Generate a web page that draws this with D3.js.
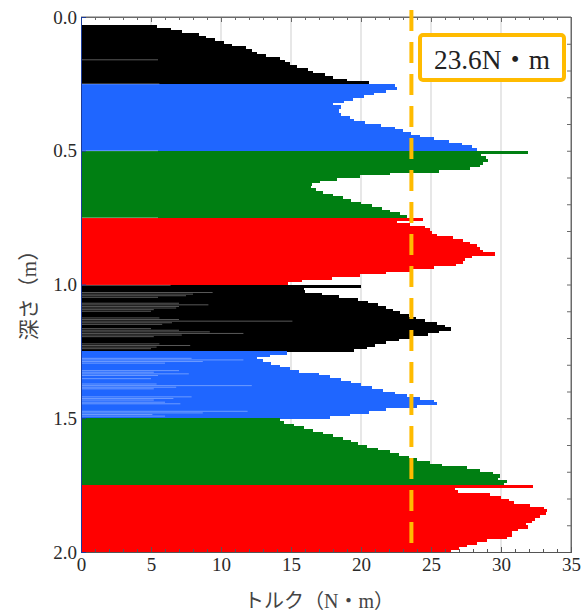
<!DOCTYPE html>
<html>
<head>
<meta charset="utf-8">
<script src="https://cdn.jsdelivr.net/npm/d3@7"></script>
<style>
  html, body { margin: 0; padding: 0; background: #fff; }
  svg { display: block; }
</style>
</head>
<body>
<svg id="chart" width="583" height="614"></svg>
<script>
// Torque profile along depth, one reading every 0.01 m, in 0.25 m layers
const depthStep = 0.01;
const layerTops = [0.00, 0.25, 0.50, 0.75, 1.00, 1.25, 1.50, 1.75];

const torqueLayer1 = [null, null, null, 5.4, 6.4, 7.2, 8.4, 8.9, 9.6, 10.2, 10.8, 11.8, 12.2, 12.6, 13.2, 14.2, 14.6, 14.9, 15.4, 16.2, 16.6, 17.4, 18.0, 19.0, 20.6];
const torqueLayer2 = [22.4, 22.6, 21.8, 20.9, 20.2, 19.4, 18.8, 18.0, 18.6, 18.4, 18.4, 18.6, 19.2, 19.5, 20.3, 21.4, 22.4, 23.0, 23.6, 24.2, 25.2, 26.3, 27.2, 27.9, 28.3];
const torqueLayer3 = [31.9, 28.6, 28.9, 29.1, 28.7, 28.5, 27.8, 25.6, 22.1, 19.9, 18.3, 17.1, 16.5, 16.4, 16.8, 17.3, 18.0, 18.7, 19.3, 20.0, 20.8, 21.5, 22.1, 22.8, 23.3];
const torqueLayer4 = [24.4, 22.6, 23.5, 24.6, 24.9, 25.1, 25.4, 26.6, 27.3, 27.8, 28.3, 28.5, 28.7, 29.6, 27.9, 27.4, 27.3, 26.8, 25.2, 23.5, 21.8, 19.9, 17.9, 15.8, 14.8];
const torqueLayer5 = [20.0, 15.9, 16.0, 17.2, 18.4, 19.8, 20.5, 21.2, 21.8, 22.3, 22.8, 23.4, 23.9, 24.6, 25.4, 26.0, 26.4, 25.6, 24.8, 23.6, 22.7, 21.8, 21.0, 20.4, 19.5];
const torqueLayer6 = [14.7, 13.5, 12.6, 13.0, 13.6, 14.2, 14.9, 15.6, 17.0, 17.8, 18.6, 19.3, 20.0, 20.8, 21.6, 22.4, 23.3, 24.2, 25.2, 25.4, 24.0, 21.8, 20.6, 19.2, 17.8];
const torqueLayer7 = [14.2, 14.5, 15.2, 15.9, 16.6, 17.3, 18.0, 18.7, 19.3, 19.8, 20.4, 21.2, 22.1, 22.7, 23.4, 24.0, 24.9, 25.8, 27.6, 28.5, 29.4, 29.9, 29.8, 30.4, 30.2];
const torqueLayer8 = [32.3, 26.7, 26.9, 29.2, 30.0, 30.6, 30.9, 32.1, 33.1, 33.3, 33.2, 32.8, 32.4, 32.2, 31.8, 31.9, 31.2, 30.8, 30.8, 30.4, 29.0, 28.3, 27.6, 27.0, 26.4];

// Thin light seams between readings (depth, torque reached)
const seamDepths  = [0.16, 0.25, 0.50, 0.75, 1.003,
  1.030, 1.036, 1.042, 1.048, 1.070, 1.076, 1.082, 1.088, 1.094, 1.100,
  1.125, 1.131, 1.137, 1.143, 1.149, 1.165, 1.171, 1.177, 1.183, 1.189, 1.195,
  1.222, 1.228, 1.234, 1.240,
  1.276, 1.282, 1.288, 1.294, 1.322, 1.328, 1.334, 1.340, 1.352,
  1.372, 1.378, 1.384, 1.390, 1.420, 1.426, 1.432, 1.440, 1.446,
  1.474, 1.480, 1.486, 1.492];
const seamTorques = [5.5, 5.6, 5.5, 5.5, 6.4,
  9.4, 8.0, 7.5, 5.5, 7.0, 9.1, 7.0, 6.8, 5.2, 5.0,
  5.6, 7.0, 15.1, 6.5, 5.8, 5.0, 7.0, 9.2, 11.6, 7.2, 5.2,
  5.6, 7.8, 5.4, 5.0,
  7.9, 11.6, 8.7, 6.0, 7.0, 5.2, 7.7, 5.5, 5.0,
  5.4, 12.2, 6.8, 5.2, 7.9, 6.6, 5.2, 6.0, 7.1,
  11.9, 8.7, 5.1, 6.0];

const limitTorque = 23.6;
const limitLabel = "23.6N・m";
const xTicks = [0, 5, 10, 15, 20, 25, 30, 35];
const yTicks = [0.0, 0.5, 1.0, 1.5, 2.0];
const xTitle = "トルク（N・m）";
const yTitle = "深さ（m）";

const layerColors = ["#000000", "#1f66ff", "#007f12", "#ff0000",
                     "#000000", "#1f66ff", "#007f12", "#ff0000"];

const layers = [torqueLayer1, torqueLayer2, torqueLayer3, torqueLayer4,
                torqueLayer5, torqueLayer6, torqueLayer7, torqueLayer8];

const readings = [];
layers.forEach((vals, li) => {
  vals.forEach((v, i) => {
    if (v == null) return;
    readings.push({ depth: layerTops[li] + i * depthStep, torque: v, layer: li });
  });
});

const svg = d3.select("#chart");
const x = d3.scaleLinear().domain([0, 35]).range([81, 571]);
const y = d3.scaleLinear().domain([0, 2]).range([17, 552]);
const serif = "'Liberation Serif', 'Times New Roman', serif";
const cjk = "'Liberation Serif', 'Noto Sans CJK JP', serif";

// vertical grid
svg.append("g").selectAll("line")
  .data(xTicks.filter(t => t > 0 && t < 35))
  .join("line")
  .attr("x1", d => x(d)).attr("x2", d => x(d))
  .attr("y1", y(0)).attr("y2", y(2))
  .attr("stroke", "#cfcfcf").attr("stroke-width", 1);

// torque bars
svg.append("g").attr("shape-rendering", "crispEdges").selectAll("rect")
  .data(readings)
  .join("rect")
  .attr("x", x(0))
  .attr("y", d => y(d.depth))
  .attr("width", d => x(d.torque) - x(0))
  .attr("height", d => y(d.depth + depthStep) - y(d.depth) + 0.6)
  .attr("fill", d => layerColors[d.layer]);

// light seams
svg.append("g").selectAll("line")
  .data(seamDepths.map((d, i) => ({ depth: d, torque: seamTorques[i] })))
  .join("line")
  .attr("x1", x(0)).attr("x2", d => x(d.torque))
  .attr("y1", d => y(d.depth)).attr("y2", d => y(d.depth))
  .attr("stroke", "#ffffff").attr("stroke-opacity", 0.35).attr("stroke-width", 1);

// frame
const frameColor = "#6a6a6a";
svg.append("line").attr("x1", x(0)).attr("x2", x(35)).attr("y1", y(0)).attr("y2", y(0))
  .attr("stroke", frameColor);
svg.append("line").attr("x1", x(35)).attr("x2", x(35)).attr("y1", y(0)).attr("y2", y(2))
  .attr("stroke", frameColor);

function styleAxis(g, color) {
  g.attr("font-family", serif).attr("font-size", 19);
  g.select(".domain").attr("stroke", color);
  g.selectAll(".tick line").attr("stroke", color);
  g.selectAll(".tick text").attr("fill", "#2a2a2a").attr("font-family", serif).attr("font-size", 19);
}

// minor ticks: every 1 N·m on top/bottom, every 0.1 m on right
const minorX = d3.range(1, 35).filter(v => v % 5 !== 0);
const minorY = d3.range(1, 20).map(v => v / 10);

svg.append("g").attr("transform", `translate(0,${y(0)})`)
  .call(d3.axisTop(x).tickValues(minorX).tickSize(-3).tickFormat(""))
  .call(g => styleAxis(g, frameColor));
svg.append("g").attr("transform", `translate(0,${y(0)})`)
  .call(d3.axisTop(x).tickValues(xTicks).tickSize(-5).tickFormat(""))
  .call(g => styleAxis(g, frameColor));

svg.append("g").attr("transform", `translate(${x(35)},0)`)
  .call(d3.axisRight(y).tickValues(minorY).tickSize(-4).tickFormat(""))
  .call(g => styleAxis(g, frameColor));

svg.append("g").attr("transform", `translate(0,${y(2)})`)
  .call(d3.axisBottom(x).tickValues(minorX).tickSize(-3).tickFormat(""))
  .call(g => styleAxis(g, "#555"));
svg.append("g").attr("transform", `translate(0,${y(2)})`)
  .call(d3.axisBottom(x).tickValues(xTicks).tickSizeInner(-5).tickSizeOuter(0).tickPadding(6))
  .call(g => styleAxis(g, "#555"));

svg.append("g").attr("transform", `translate(${x(0)},0)`)
  .call(d3.axisLeft(y).tickValues(yTicks).tickFormat(d3.format(".1f"))
        .tickSizeInner(-5).tickSizeOuter(0).tickPadding(4))
  .call(g => styleAxis(g, "#1a3c9c"));

// limit line
const limitColor = "#ffbb00";
svg.append("line")
  .attr("x1", x(limitTorque)).attr("x2", x(limitTorque))
  .attr("y1", y(0) - 7).attr("y2", y(2))
  .attr("stroke", limitColor).attr("stroke-width", 4)
  .attr("stroke-dasharray", "21,11");

// limit label box
const box = svg.append("g");
box.append("rect")
  .attr("x", 420).attr("y", 35).attr("width", 144).attr("height", 45)
  .attr("rx", 3).attr("fill", "#fff")
  .attr("stroke", limitColor).attr("stroke-width", 4);
box.append("text")
  .attr("x", 492).attr("y", 69)
  .attr("text-anchor", "middle")
  .attr("font-family", cjk).attr("font-size", 27)
  .attr("fill", "#222")
  .attr("textLength", 116).attr("lengthAdjust", "spacingAndGlyphs")
  .text(limitLabel);

// axis titles
svg.append("text")
  .attr("x", 319).attr("y", 608)
  .attr("text-anchor", "middle")
  .attr("font-family", cjk).attr("font-size", 20)
  .attr("fill", "#444")
  .text(xTitle);

svg.append("text")
  .attr("transform", "translate(36,290) rotate(-90)")
  .attr("text-anchor", "middle")
  .attr("font-family", cjk).attr("font-size", 21)
  .attr("fill", "#444")
  .text(yTitle);
</script>
</body>
</html>
